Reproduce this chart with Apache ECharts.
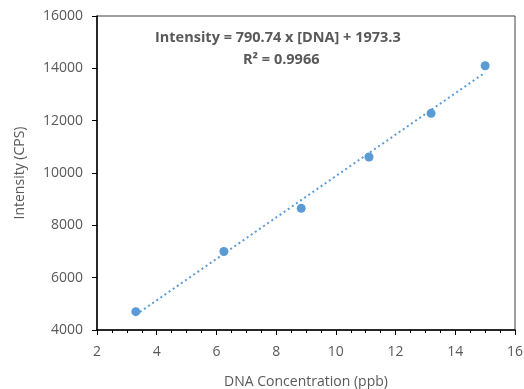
<!DOCTYPE html>
<html>
<head>
<meta charset="utf-8">
<script src="https://cdn.jsdelivr.net/npm/echarts@6/dist/echarts.min.js"></script>
<style>
  html, body { margin: 0; padding: 0; background: #fff; }
  #chart { width: 524px; height: 389px; }
</style>
</head>
<body>
<div id="chart"></div>
<script>
// measured points (DNA ppb, intensity CPS)
var dnaConc = [3.3, 6.25, 8.84, 11.11, 13.19, 15.0];
var intensity = [4700, 7000, 8650, 10610, 12280, 14100];
// trendline ends
var trendX = [3.3, 15.0];
var trendY = [4580, 13840];
var equationText = 'Intensity = 790.74 x [DNA] + 1973.3';
var r2Text = 'R² = 0.9966';

var gray = '#595959';
var blue = '#5B9BD5';
var font = 'Open Sans';

var points = dnaConc.map(function(x, i) { return [x, intensity[i]]; });
var trend = trendX.map(function(x, i) { return [x, trendY[i]]; });

var chart = echarts.init(document.getElementById('chart'));
chart.setOption({
    animation: false,
    grid: {left: 97, right: 9, top: 16, bottom: 59, outerBoundsMode: 'none', containLabel: false,
           show: true, borderColor: '#404040', borderWidth: 1},
    graphic: [
        {type: 'text', left: 155, top: 30, style: {text: equationText, fill: gray, font: 'bold 14.5px "Open Sans"'}},
        {type: 'text', left: 243, top: 52, style: {text: r2Text, fill: gray, font: 'bold 14.5px "Open Sans"'}}
    ],
    xAxis: {
        type: 'value',
        min: 2, max: 16, interval: 2,
        name: 'DNA Concentration (ppb)',
        nameLocation: 'middle',
        nameGap: 45,
        nameTextStyle: {color: gray, fontFamily: font, fontSize: 14},
        axisLine: {lineStyle: {color: '#000', width: 1.5}},
        axisTick: {show: true, inside: false, length: 5, lineStyle: {color: '#000'}},
        minorTick: {show: true, splitNumber: 4, length: 3, lineStyle: {color: '#000'}},
        axisLabel: {color: gray, fontFamily: font, fontSize: 14, margin: 15},
        splitLine: {show: false}
    },
    yAxis: {
        type: 'value',
        min: 4000, max: 16000, interval: 2000,
        name: 'Intensity (CPS)',
        nameLocation: 'middle',
        nameGap: 70,
        nameTextStyle: {color: gray, fontFamily: font, fontSize: 14},
        axisLine: {show: true, lineStyle: {color: '#000', width: 1.5}},
        axisTick: {show: true, inside: false, length: 5, lineStyle: {color: '#000'}},
        axisLabel: {color: gray, fontFamily: font, fontSize: 14, margin: 14, formatter: function(v) { return String(v); }},
        splitLine: {show: false}
    },
    series: [
        {
            type: 'line',
            data: trend,
            showSymbol: false,
            lineStyle: {color: blue, width: 2, type: [2, 3]},
            z: 1
        },
        {
            type: 'scatter',
            data: points,
            symbolSize: 9,
            itemStyle: {color: blue, opacity: 1},
            z: 2
        }
    ]
});
</script>
</body>
</html>
